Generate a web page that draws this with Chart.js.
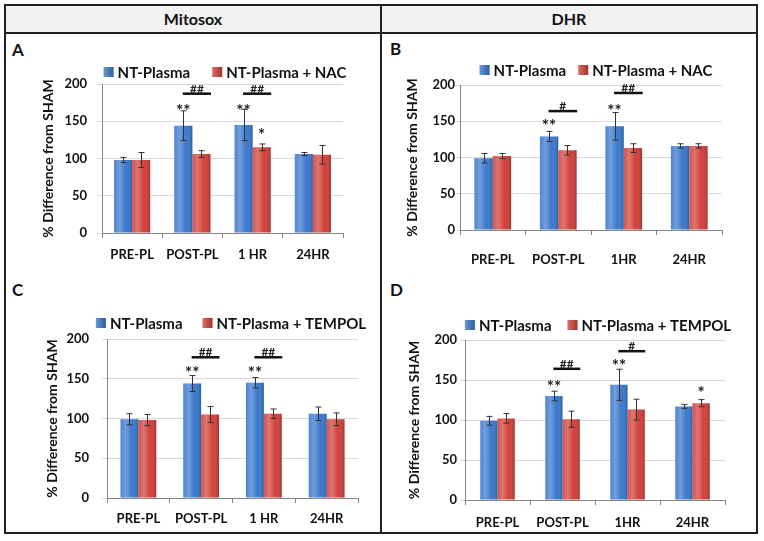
<!DOCTYPE html>
<html>
<head>
<meta charset="utf-8">
<script src="https://cdn.jsdelivr.net/npm/chart.js@4.4.1/dist/chart.umd.min.js"></script>
<style>
  body { margin: 0; background: #fff; }
  #fig { position: relative; width: 764px; height: 541px; font-family: Lato, "Open Sans", sans-serif; }
  .ln { position: absolute; background: #222; }
  .hdr { position: absolute; top: 6px; height: 26px; line-height: 26px; text-align: center; font-weight: bold; font-size: 16px; color: #111; }
  .let { position: absolute; font-weight: bold; font-size: 17px; line-height: 17px; color: #111; }
  canvas { position: absolute; }
</style>
</head>
<body>
<div id="fig">
  <div style="position:absolute;left:6px;top:6px;width:750px;height:26px;background:#f2f2f2"></div>
  <div class="ln" style="left:4px;top:4px;width:754px;height:2px"></div>
  <div class="ln" style="left:4px;top:532px;width:754px;height:2px"></div>
  <div class="ln" style="left:4px;top:4px;width:2px;height:530px"></div>
  <div class="ln" style="left:756px;top:4px;width:2px;height:530px"></div>
  <div class="ln" style="left:4px;top:32px;width:754px;height:2px"></div>
  <div class="ln" style="left:380px;top:4px;width:2px;height:530px"></div>
  <div class="hdr" style="left:6px;width:374px">Mitosox</div>
  <div class="hdr" style="left:382px;width:374px">DHR</div>
  <div class="let" style="left:12px;top:41px">A</div>
  <div class="let" style="left:390px;top:40px">B</div>
  <div class="let" style="left:12px;top:281px">C</div>
  <div class="let" style="left:390px;top:281px">D</div>
  <canvas id="cA"></canvas>
  <canvas id="cB"></canvas>
  <canvas id="cC"></canvas>
  <canvas id="cD"></canvas>
</div>
<script>
// categories
var catsSpaced = ['PRE-PL', 'POST-PL', '1 HR', '24HR'];
var catsTight = ['PRE-PL', 'POST-PL', '1HR', '24HR'];

// A: Mitosox, NAC
var mitoNacPlasma = [98, 144, 145, 106];
var mitoNacPlasmaErr = [3.5, 20, 21, 2];
var mitoNac = [98, 106, 115, 105];
var mitoNacErr = [10, 4.5, 4.5, 12.5];

// B: DHR, NAC
var dhrNacPlasma = [99, 129, 143, 116];
var dhrNacPlasmaErr = [6.5, 7, 19, 3];
var dhrNac = [102, 110, 113, 116];
var dhrNacErr = [3.5, 6.5, 6, 3];

// C: Mitosox, TEMPOL
var mitoTemPlasma = [99, 144, 145, 106];
var mitoTemPlasmaErr = [7, 10, 6.5, 8.5];
var mitoTem = [98, 105, 106, 99];
var mitoTemErr = [7, 10, 6, 8];

// D: DHR, TEMPOL
var dhrTemPlasma = [99, 130, 144, 117];
var dhrTemPlasmaErr = [5.5, 6, 19.5, 2.5];
var dhrTem = [102, 101, 113, 121];
var dhrTemErr = [6, 10, 13, 4.5];

// significance marks: [series, category, value, text]
var starsA = [[0, 1, 169, '**'], [0, 2, 169, '**'], [1, 2, 136, '*']];
var hashA = [[1, 187, '##'], [2, 187, '##']];
var starsB = [[0, 1, 148, '**'], [0, 2, 169, '**']];
var hashB = [[1, 164, '#'], [2, 189, '##']];
var starsC = [[0, 1, 162, '**'], [0, 2, 162, '**']];
var hashC = [[1, 177, '##'], [2, 177, '##']];
var starsD = [[0, 1, 146, '**'], [0, 2, 172, '**'], [1, 3, 138, '*']];
var hashD = [[1, 164, '##'], [2, 186, '#']];

var yTicks = [0, 50, 100, 150, 200];

var BLUE = '#3b78cc';
var RED = '#d2403a';
var FONT = 'Lato, "Open Sans", sans-serif';

function marksPlugin(errs, stars, hashes, leg) {
  return {
    id: 'marks',
    afterDatasetsDraw: function(chart) {
      var ctx = chart.ctx;
      var ys = chart.scales.y;
      ctx.save();
      // shading on bars
      chart.data.datasets.forEach(function(ds, d) {
        chart.getDatasetMeta(d).data.forEach(function(el) {
          var p = el.getProps(['x', 'y', 'base', 'width'], true);
          var l = p.x - p.width / 2;
          var g = ctx.createLinearGradient(l, 0, l + p.width, 0);
          g.addColorStop(0, 'rgba(255,255,255,0.10)');
          g.addColorStop(0.3, 'rgba(255,255,255,0.28)');
          g.addColorStop(0.65, 'rgba(255,255,255,0)');
          g.addColorStop(1, 'rgba(0,0,0,0.22)');
          ctx.fillStyle = g;
          ctx.fillRect(l, p.y, p.width, p.base - p.y);
        });
      });
      // error bars
      ctx.strokeStyle = '#333';
      ctx.lineWidth = 1;
      chart.data.datasets.forEach(function(ds, d) {
        chart.getDatasetMeta(d).data.forEach(function(el, i) {
          var x = Math.round(el.x) + 0.5;
          var t = ys.getPixelForValue(ds.data[i] + errs[d][i]);
          var b = ys.getPixelForValue(ds.data[i] - errs[d][i]);
          ctx.beginPath();
          ctx.moveTo(x, t); ctx.lineTo(x, b);
          ctx.moveTo(x - 3, t); ctx.lineTo(x + 3, t);
          ctx.moveTo(x - 3, b); ctx.lineTo(x + 3, b);
          ctx.stroke();
        });
      });
      // stars
      ctx.fillStyle = '#222';
      ctx.textAlign = 'center';
      ctx.textBaseline = 'middle';
      ctx.font = 'bold 17px ' + FONT;
      stars.forEach(function(s) {
        var el = chart.getDatasetMeta(s[0]).data[s[1]];
        ctx.fillText(s[3], el.x, ys.getPixelForValue(s[2]) + 4);
      });
      // hash lines
      ctx.strokeStyle = '#111';
      ctx.lineWidth = 2.5;
      ctx.font = 'bold 12px ' + FONT;
      ctx.textBaseline = 'alphabetic';
      hashes.forEach(function(h) {
        var b0 = chart.getDatasetMeta(0).data[h[0]];
        var b1 = chart.getDatasetMeta(1).data[h[0]];
        var w = b0.width;
        var cx = (b0.x + b1.x) / 2 + w * 0.25;
        var y = ys.getPixelForValue(h[1]);
        ctx.beginPath();
        ctx.moveTo(cx - w * 0.78, y);
        ctx.lineTo(cx + w * 0.78, y);
        ctx.stroke();
        ctx.fillText(h[2], cx, y - 1);
      });
      ctx.restore();
    },
    afterDraw: function(chart) {
      // legend above the plot
      var ctx = chart.ctx;
      ctx.save();
      ctx.font = 'bold 15px ' + FONT;
      ctx.textBaseline = 'middle';
      ctx.textAlign = 'left';
      var items = chart.data.datasets.map(function(ds) {
        return { text: ds.label, color: ds.backgroundColor, w: 14 + ctx.measureText(ds.label).width };
      });
      var total = items[0].w + leg.gap + items[1].w;
      var x = leg.x - total / 2;
      items.forEach(function(it) {
        ctx.fillStyle = it.color;
        ctx.fillRect(x, leg.y - 5, 10, 10);
        var g = ctx.createLinearGradient(x, 0, x + 10, 0);
        g.addColorStop(0, 'rgba(255,255,255,0.25)');
        g.addColorStop(1, 'rgba(0,0,0,0.2)');
        ctx.fillStyle = g;
        ctx.fillRect(x, leg.y - 5, 10, 10);
        ctx.fillStyle = '#111';
        ctx.fillText(it.text, x + 14, leg.y + 1);
        x += it.w + leg.gap;
      });
      ctx.restore();
    }
  };
}

function makePanel(id, cats, v1, e1, v2, e2, name2, stars, hashes, box) {
  var x0 = Math.round(box.titleX - 12.4);
  var top = box.top - 32;
  var canvas = document.getElementById(id);
  canvas.width = box.right - x0 + 30;
  canvas.height = box.bottom + 40 - top;
  canvas.style.left = x0 + 'px';
  canvas.style.top = top + 'px';
  var leg = { x: box.legendX - x0, y: box.legendY - top, gap: box.legGap };
  new Chart(canvas, {
    type: 'bar',
    data: {
      labels: cats,
      datasets: [
        { label: 'NT-Plasma', data: v1, backgroundColor: BLUE, borderWidth: 0 },
        { label: name2, data: v2, backgroundColor: RED, borderWidth: 0 }
      ]
    },
    options: {
      responsive: false,
      animation: false,
      devicePixelRatio: 1,
      layout: { padding: { top: 32, right: 30, left: 0, bottom: 0 } },
      datasets: { bar: { categoryPercentage: box.catPct, barPercentage: 1.0 } },
      plugins: {
        tooltip: { enabled: false },
        legend: { display: false }
      },
      scales: {
        x: {
          grid: { drawOnChartArea: false, color: '#868686', tickLength: 5, offset: true },
          border: { color: '#868686' },
          ticks: { color: '#111', padding: box.bottomPad, font: { family: FONT, size: 13, weight: 'bold' } },
          afterFit: function(s) { s.height = 40; }
        },
        y: {
          min: 0, max: 200,
          afterBuildTicks: function(s) { s.ticks = yTicks.map(function(v) { return { value: v }; }); },
          grid: { color: '#d9d9d9', tickLength: 5 },
          border: { color: '#868686' },
          ticks: { color: '#111', padding: box.yPad, font: { family: FONT, size: 13, weight: 'bold' } },
          title: { display: true, text: '% Difference from SHAM', color: '#111', font: { family: FONT, size: 14, weight: 'bold' } },
          afterFit: function(s) { s.width = box.axisX - x0; }
        }
      }
    },
    plugins: [marksPlugin([e1, e2], stars, hashes, leg)]
  });
}

makePanel('cA', catsSpaced, mitoNacPlasma, mitoNacPlasmaErr, mitoNac, mitoNacErr, 'NT-Plasma + NAC', starsA, hashA,
  { titleX: 48, axisX: 102, right: 343, legendX: 225, legendY: 72, legGap: 22, top: 84, bottom: 233, yPad: 10, bottomPad: 9, catPct: 0.6 });
makePanel('cB', catsTight, dhrNacPlasma, dhrNacPlasmaErr, dhrNac, dhrNacErr, 'NT-Plasma + NAC', starsB, hashB,
  { titleX: 412, axisX: 460, right: 722, legendX: 596, legendY: 70, legGap: 12, top: 85, bottom: 230, yPad: 0, bottomPad: 17, catPct: 0.56 });
makePanel('cC', catsSpaced, mitoTemPlasma, mitoTemPlasmaErr, mitoTem, mitoTemErr, 'NT-Plasma + TEMPOL', starsC, hashC,
  { titleX: 52, axisX: 107, right: 358, legendX: 231, legendY: 323, legGap: 20, top: 339, bottom: 498, yPad: 13, bottomPad: 8, catPct: 0.57 });
makePanel('cD', catsTight, dhrTemPlasma, dhrTemPlasmaErr, dhrTem, dhrTemErr, 'NT-Plasma + TEMPOL', starsD, hashD,
  { titleX: 414, axisX: 465, right: 725, legendX: 598, legendY: 325, legGap: 16, top: 340, bottom: 500, yPad: 3, bottomPad: 10, catPct: 0.53 });
</script>
</body>
</html>
